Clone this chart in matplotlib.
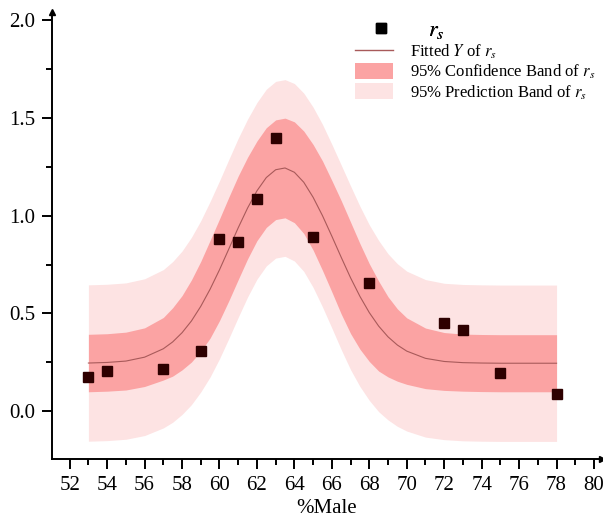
import matplotlib
matplotlib.use('Agg')
import matplotlib.pyplot as plt
from matplotlib.lines import Line2D
from matplotlib.patches import Patch
from matplotlib.ticker import MultipleLocator

plt.rcParams['font.family'] = ['Liberation Serif', 'DejaVu Serif']
plt.rcParams['mathtext.fontset'] = 'stix'

# observed points
male_pct = [53, 54, 57, 59, 60, 61, 62, 63, 65, 68, 72, 73, 75, 78]
r_s = [0.172, 0.203, 0.218, 0.309, 0.879, 0.865, 1.087, 1.396, 0.889, 0.653,
       0.450, 0.413, 0.196, 0.089]

# fitted curve and bands
curve_x = [53, 54, 55, 56, 57, 57.5, 58, 58.5, 59, 59.5, 60, 60.5, 61, 61.5, 62,
           62.5, 63, 63.5, 64, 64.5, 65, 65.5, 66, 66.5, 67, 67.5, 68, 68.5, 69,
           69.5, 70, 71, 72, 73, 74, 75, 76, 77, 78]
fit_y = [0.246, 0.249, 0.256, 0.276, 0.319, 0.354, 0.401, 0.461, 0.536, 0.624,
         0.723, 0.830, 0.938, 1.039, 1.127, 1.195, 1.235, 1.244, 1.222, 1.171,
         1.094, 1.000, 0.895, 0.787, 0.682, 0.587, 0.504, 0.435, 0.380, 0.338,
         0.307, 0.270, 0.254, 0.248, 0.246, 0.245, 0.245, 0.245, 0.245]
conf_lo = [0.099, 0.102, 0.108, 0.126, 0.159, 0.179, 0.211, 0.251, 0.306, 0.374,
           0.463, 0.565, 0.673, 0.779, 0.872, 0.940, 0.980, 0.989, 0.964, 0.909,
           0.824, 0.720, 0.610, 0.497, 0.397, 0.317, 0.254, 0.205, 0.175, 0.153,
           0.137, 0.115, 0.106, 0.102, 0.100, 0.099, 0.099, 0.099, 0.099]
conf_hi = [0.393, 0.396, 0.404, 0.426, 0.479, 0.529, 0.591, 0.671, 0.766, 0.874,
           0.983, 1.095, 1.203, 1.299, 1.382, 1.450, 1.490, 1.499, 1.480, 1.433,
           1.364, 1.280, 1.180, 1.077, 0.967, 0.857, 0.754, 0.665, 0.585, 0.523,
           0.477, 0.425, 0.402, 0.394, 0.392, 0.391, 0.391, 0.391, 0.391]
pred_lo = [-0.154, -0.151, -0.144, -0.125, -0.086, -0.057, -0.017, 0.033, 0.098,
           0.175, 0.268, 0.372, 0.480, 0.584, 0.675, 0.743, 0.783, 0.792, 0.768,
           0.715, 0.633, 0.533, 0.425, 0.315, 0.212, 0.126, 0.055, -0.003, -0.045,
           -0.078, -0.102, -0.133, -0.146, -0.152, -0.154, -0.155, -0.155, -0.155,
           -0.155]
pred_hi = [0.646, 0.649, 0.656, 0.677, 0.724, 0.765, 0.819, 0.889, 0.974, 1.073,
           1.178, 1.288, 1.396, 1.494, 1.579, 1.647, 1.687, 1.696, 1.676, 1.627,
           1.555, 1.467, 1.365, 1.259, 1.152, 1.048, 0.953, 0.873, 0.805, 0.754,
           0.716, 0.673, 0.654, 0.648, 0.646, 0.645, 0.645, 0.645, 0.645]

x_ticks = list(range(52, 81, 2))
y_ticks = [0.0, 0.5, 1.0, 1.5, 2.0]

conf_color = '#FBA3A3'
pred_color = '#FDE3E3'
line_color = '#A85A5A'
marker_color = '#2E0000'

fig = plt.figure(figsize=(6.03, 5.28), dpi=100)
ax = fig.add_axes([51.7 / 603, (528 - 459) / 528, 549.8 / 603, 446.6 / 528])

ax.fill_between(curve_x, pred_lo, pred_hi, color=pred_color, lw=0, zorder=1)
ax.fill_between(curve_x, conf_lo, conf_hi, color=conf_color, lw=0, zorder=2)
ax.plot(curve_x, fit_y, color=line_color, lw=0.8, zorder=3)
ax.plot(male_pct, r_s, 's', color=marker_color, ms=7, zorder=4)

ax.set_xlim(51.04, 80.4)
ax.set_ylim(-0.245, 2.04)
ax.set_xticks(x_ticks)
ax.set_yticks(y_ticks)
ax.set_yticklabels([f'{v:.1f}' for v in y_ticks])
ax.xaxis.set_minor_locator(MultipleLocator(1))
ax.yaxis.set_minor_locator(MultipleLocator(0.25))
ax.tick_params(axis='both', which='major', direction='out', length=7, width=1.4,
               labelsize=15, pad=5)
ax.tick_params(axis='both', which='minor', direction='out', length=4, width=1.4)
for s in ['top', 'right']:
    ax.spines[s].set_visible(False)
for s in ['left', 'bottom']:
    ax.spines[s].set_linewidth(1.4)
ax.plot(1, 0, '>', color='k', ms=5, transform=ax.transAxes, clip_on=False)
ax.plot(0, 1, '^', color='k', ms=5, transform=ax.transAxes, clip_on=False)

ax.set_xlabel('%Male', fontsize=15, labelpad=3)

h1 = [Line2D([], [], ls='none', marker='s', color='black', ms=7)]
leg1 = fig.legend(h1, [r'$r_s$'], loc='upper left', frameon=False,
                  bbox_to_anchor=(355 / 603, 1 - 20 / 528), borderaxespad=0,
                  borderpad=0, handlelength=2.3, handletextpad=1.0, fontsize=16)
h2 = [Line2D([], [], color=line_color, lw=1.0),
      Patch(facecolor=conf_color, edgecolor='none'),
      Patch(facecolor=pred_color, edgecolor='none')]
labels2 = [r'Fitted $Y$ of $r_s$', r'95% Confidence Band of $r_s$',
           r'95% Prediction Band of $r_s$']
leg2 = fig.legend(h2, labels2, loc='upper left', frameon=False,
                  bbox_to_anchor=(355 / 603, 1 - 43 / 528), borderaxespad=0,
                  borderpad=0, handlelength=2.3, handleheight=1.1,
                  handletextpad=1.0, labelspacing=0.1, fontsize=12)
fig.add_artist(leg1)

fig.savefig('out.png', dpi=100)
